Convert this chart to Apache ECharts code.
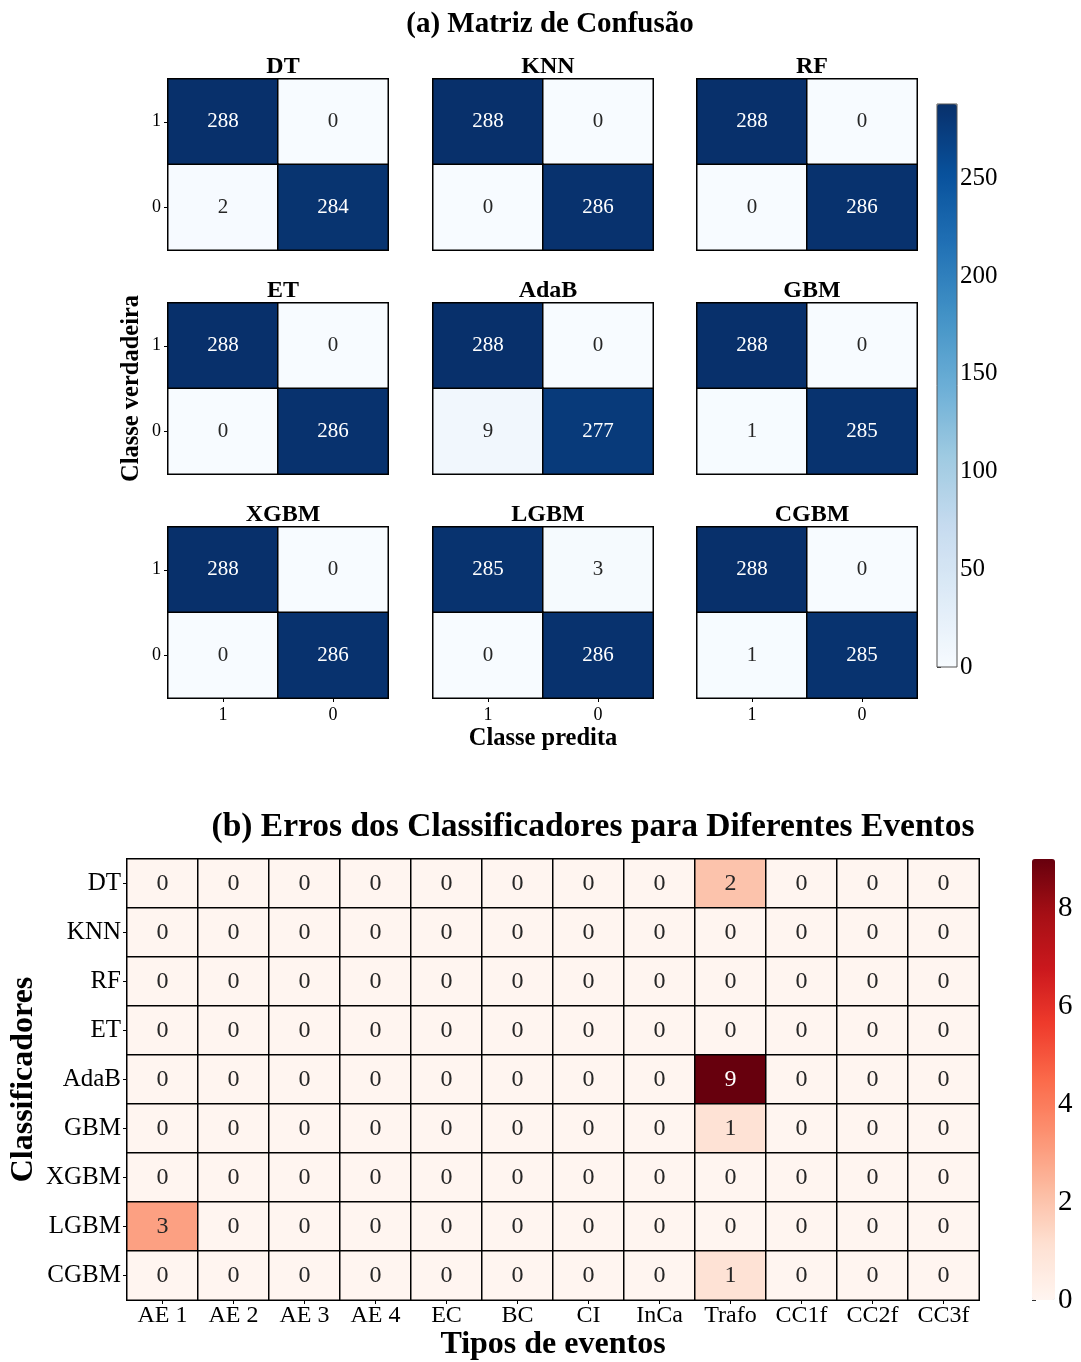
<!DOCTYPE html>
<html>
<head>
<meta charset="utf-8">
<script src="https://cdn.jsdelivr.net/npm/echarts@6/dist/echarts.min.js"></script>
<style>
  html, body { margin: 0; padding: 0; background: #ffffff; }
  #chart { width: 1081px; height: 1362px; }
</style>
</head>
<body>
<div id="chart"></div>
<script>
// ---- data ----
const models = ['DT', 'KNN', 'RF', 'ET', 'AdaB', 'GBM', 'XGBM', 'LGBM', 'CGBM'];
const classLabels = ['1', '0'];

// confusion matrices: rows = true class (1, 0), columns = predicted class (1, 0)
const cmDT   = [[288, 0], [2, 284]];
const cmKNN  = [[288, 0], [0, 286]];
const cmRF   = [[288, 0], [0, 286]];
const cmET   = [[288, 0], [0, 286]];
const cmAdaB = [[288, 0], [9, 277]];
const cmGBM  = [[288, 0], [1, 285]];
const cmXGBM = [[288, 0], [0, 286]];
const cmLGBM = [[285, 3], [0, 286]];
const cmCGBM = [[288, 0], [1, 285]];
const matrices = [cmDT, cmKNN, cmRF, cmET, cmAdaB, cmGBM, cmXGBM, cmLGBM, cmCGBM];

const eventTypes = ['AE 1', 'AE 2', 'AE 3', 'AE 4', 'EC', 'BC', 'CI', 'InCa', 'Trafo', 'CC1f', 'CC2f', 'CC3f'];
const errDT   = [0, 0, 0, 0, 0, 0, 0, 0, 2, 0, 0, 0];
const errKNN  = [0, 0, 0, 0, 0, 0, 0, 0, 0, 0, 0, 0];
const errRF   = [0, 0, 0, 0, 0, 0, 0, 0, 0, 0, 0, 0];
const errET   = [0, 0, 0, 0, 0, 0, 0, 0, 0, 0, 0, 0];
const errAdaB = [0, 0, 0, 0, 0, 0, 0, 0, 9, 0, 0, 0];
const errGBM  = [0, 0, 0, 0, 0, 0, 0, 0, 1, 0, 0, 0];
const errXGBM = [0, 0, 0, 0, 0, 0, 0, 0, 0, 0, 0, 0];
const errLGBM = [3, 0, 0, 0, 0, 0, 0, 0, 0, 0, 0, 0];
const errCGBM = [0, 0, 0, 0, 0, 0, 0, 0, 1, 0, 0, 0];
const errors = [errDT, errKNN, errRF, errET, errAdaB, errGBM, errXGBM, errLGBM, errCGBM];

const blueMax = 288;
const blueTicks = [0, 50, 100, 150, 200, 250];
const redMax = 9;
const redTicks = [0, 2, 4, 6, 8];

// ---- styling ----
const FONT = 'Liberation Serif';
const BLUES = ['#f7fbff', '#deebf7', '#c6dbef', '#9ecae1', '#6baed6', '#4292c6', '#2171b5', '#08519c', '#08306b'];
const REDS  = ['#fff5f0', '#fee0d2', '#fcbba1', '#fc9272', '#fb6a4a', '#ef3b2c', '#cb181d', '#a50f15', '#67000d'];
const TEXT_DARK = '#262626';

const panelLefts = [168, 433, 697];
const panelTops = [79, 303, 527];
const panelW = 220, panelH = 171;

const grids = [], xAxes = [], yAxes = [], series = [], titles = [];

titles.push({
  text: '(a) Matriz de Confusão', left: 545, top: 5, textAlign: 'center',
  textStyle: { fontFamily: FONT, fontWeight: 'bold', fontSize: 29, color: '#000' }
});

matrices.forEach((m, i) => {
  const col = i % 3, row = Math.floor(i / 3);
  const left = panelLefts[col], top = panelTops[row];
  grids.push({ left: left, top: top, width: panelW, height: panelH, outerBoundsMode: 'none' });
  titles.push({
    text: models[i], left: left + panelW / 2, top: top - 29, textAlign: 'center',
    textStyle: { fontFamily: FONT, fontWeight: 'bold', fontSize: 24, color: '#000' }
  });
  const xa = {
    type: 'category', gridIndex: i, data: classLabels,
    axisLine: { show: false }, splitLine: { show: false },
    axisTick: { show: row === 2, length: 4, alignWithLabel: true, lineStyle: { color: '#000' } },
    axisLabel: { show: row === 2, fontFamily: FONT, fontSize: 18, color: '#000', margin: 8 }
  };
  if (i === 7) {
    xa.name = 'Classe predita'; xa.nameLocation = 'middle'; xa.nameGap = 28; xa.nameMoveOverlap = false;
    xa.nameTextStyle = { fontFamily: FONT, fontWeight: 'bold', fontSize: 24.5, color: '#000' };
  }
  xAxes.push(xa);
  const ya = {
    type: 'category', gridIndex: i, data: classLabels, inverse: true,
    axisLine: { show: false }, splitLine: { show: false },
    axisTick: { show: col === 0, length: 4, alignWithLabel: true, lineStyle: { color: '#000' } },
    axisLabel: { show: col === 0, fontFamily: FONT, fontSize: 18, color: '#000', margin: 7 }
  };
  if (i === 3) {
    ya.name = 'Classe verdadeira'; ya.nameLocation = 'middle'; ya.nameGap = 24; ya.nameRotate = 90;
    ya.nameMoveOverlap = false;
    ya.nameTextStyle = { fontFamily: FONT, fontWeight: 'bold', fontSize: 24.5, color: '#000' };
  }
  yAxes.push(ya);
  const data = [];
  m.forEach((r, yi) => r.forEach((v, xi) => {
    data.push({ value: [xi, yi, v], label: { color: v > blueMax * 0.55 ? '#ffffff' : TEXT_DARK } });
  }));
  series.push({
    type: 'heatmap', xAxisIndex: i, yAxisIndex: i, data: data,
    itemStyle: { borderColor: '#000', borderWidth: 1.5 },
    label: { show: true, fontFamily: FONT, fontSize: 21, formatter: p => String(p.value[2]) },
    emphasis: { disabled: true }
  });
});

// Blues colorbar axis (grid 9)
grids.push({ left: 937, top: 104, width: 20, height: 563, show: true, borderColor: '#555', borderWidth: 1, z: 6, outerBoundsMode: 'none' });
xAxes.push({ type: 'value', gridIndex: 9, show: false, min: 0, max: 1 });
yAxes.push({
  type: 'value', gridIndex: 9, position: 'right', min: 0, max: blueMax,
  axisLine: { show: false }, splitLine: { show: false },
  axisTick: { show: true, length: 4, customValues: blueTicks, lineStyle: { color: '#333' } },
  axisLabel: { show: true, customValues: blueTicks, fontFamily: FONT, fontSize: 25, color: '#000', margin: 3 }
});

// error heatmap (grid 10)
grids.push({ left: 127, top: 859, width: 852, height: 441, outerBoundsMode: 'none' });
titles.push({
  text: '(b) Erros dos Classificadores para Diferentes Eventos', left: 588, top: 805, textAlign: 'center',
  textStyle: { fontFamily: FONT, fontWeight: 'bold', fontSize: 33.5, color: '#000' }
});
xAxes.push({
  type: 'category', gridIndex: 10, data: eventTypes,
  axisLine: { show: true, lineStyle: { color: '#333', width: 1.5 } }, splitLine: { show: false },
  axisTick: { show: true, length: 4, alignWithLabel: true, lineStyle: { color: '#000' } },
  axisLabel: { fontFamily: FONT, fontSize: 24, color: '#000', margin: 4, interval: 0 },
  name: 'Tipos de eventos', nameLocation: 'middle', nameGap: 29, nameMoveOverlap: false,
  nameTextStyle: { fontFamily: FONT, fontWeight: 'bold', fontSize: 32, color: '#000' }
});
yAxes.push({
  type: 'category', gridIndex: 10, data: models, inverse: true,
  axisLine: { show: false }, splitLine: { show: false },
  axisTick: { show: true, length: 4, alignWithLabel: true, lineStyle: { color: '#000' } },
  axisLabel: { fontFamily: FONT, fontSize: 25, color: '#000', margin: 6, interval: 0 },
  name: 'Classificadores', nameLocation: 'middle', nameGap: 87, nameRotate: 90, nameMoveOverlap: false,
  nameTextStyle: { fontFamily: FONT, fontWeight: 'bold', fontSize: 32, color: '#000' }
});
const errData = [];
errors.forEach((r, yi) => r.forEach((v, xi) => {
  errData.push({ value: [xi, yi, v], label: { color: v > redMax * 0.6 ? '#ffffff' : TEXT_DARK } });
}));
series.push({
  type: 'heatmap', xAxisIndex: 10, yAxisIndex: 10, data: errData,
  itemStyle: { borderColor: '#000', borderWidth: 1.5 },
  label: { show: true, fontFamily: FONT, fontSize: 24, formatter: p => String(p.value[2]) },
  emphasis: { disabled: true }
});

// Reds colorbar axis (grid 11)
grids.push({ left: 1032, top: 859, width: 23, height: 441, outerBoundsMode: 'none' });
xAxes.push({ type: 'value', gridIndex: 11, show: false, min: 0, max: 1 });
yAxes.push({
  type: 'value', gridIndex: 11, position: 'right', min: 0, max: redMax,
  axisLine: { show: false }, splitLine: { show: false },
  axisTick: { show: true, length: 4, customValues: redTicks, lineStyle: { color: '#333' } },
  axisLabel: { show: true, customValues: redTicks, fontFamily: FONT, fontSize: 29, color: '#000', margin: 3 }
});

const chart = echarts.init(document.getElementById('chart'), null, { renderer: 'canvas' });
chart.setOption({
  backgroundColor: '#ffffff',
  animation: false,
  title: titles,
  grid: grids,
  xAxis: xAxes,
  yAxis: yAxes,
  visualMap: [
    {
      type: 'continuous', min: 0, max: blueMax, seriesIndex: [0, 1, 2, 3, 4, 5, 6, 7, 8],
      dimension: 2, calculable: false, realtime: false, hoverLink: false,
      left: 937, top: 104, itemWidth: 20, itemHeight: 563, padding: 0,
      inRange: { color: BLUES }, text: null, textStyle: { color: 'transparent' }
    },
    {
      type: 'continuous', min: 0, max: redMax, seriesIndex: [9],
      dimension: 2, calculable: false, realtime: false, hoverLink: false,
      left: 1032, top: 859, itemWidth: 23, itemHeight: 441, padding: 0,
      inRange: { color: REDS }, text: null, textStyle: { color: 'transparent' }
    }
  ],
  series: series
});
</script>
</body>
</html>
